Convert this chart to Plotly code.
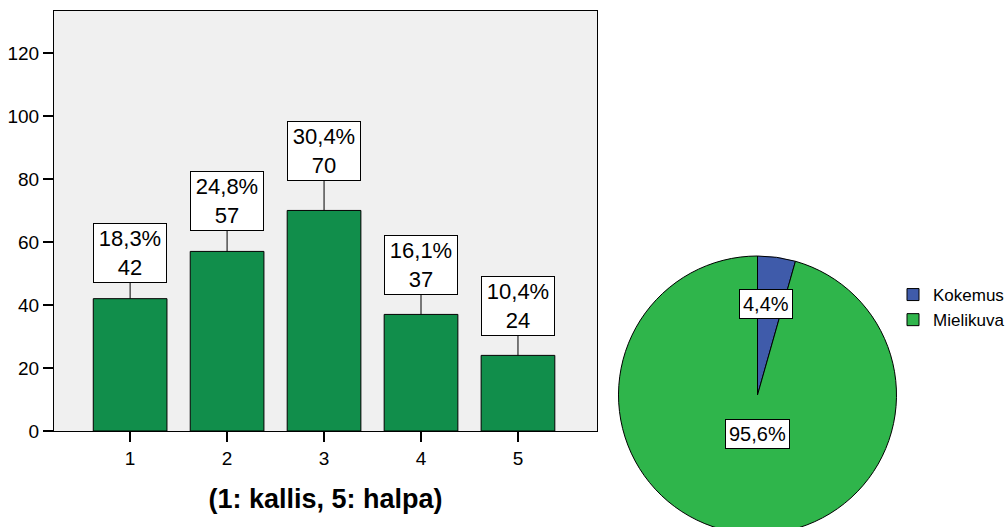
import plotly.graph_objects as go

# Price rating distribution (1: kallis, 5: halpa)
categories = [1, 2, 3, 4, 5]
counts = [42, 57, 70, 37, 24]

# Source of the impression
pie_labels = ["Kokemus", "Mielikuva"]
pie_values = [4.4, 95.6]

y_ticks = [0, 20, 40, 60, 80, 100, 120]

# vertical offset (px) of each count label above its bar
label_offsets = [-46, -50, -59, -49, -49]

W, H = 1005, 545
BAR_GREEN = "#118E4B"
PIE_COLORS = ["#3F5BAA", "#2FB54B"]
FONT = "Liberation Sans, Arial, sans-serif"


def fi_pct(v):
    return f"{v:.1f}".replace(".", ",") + "%"


total = sum(counts)

fig = go.Figure()

fig.add_trace(go.Bar(
    x=categories, y=counts,
    width=0.76,
    marker=dict(color=BAR_GREEN, line=dict(color="black", width=1)),
    showlegend=False,
    hoverinfo="skip",
    xaxis="x", yaxis="y",
))

# bar value labels: percentage share + count
annotations = []
for c, n, off in zip(categories, counts, label_offsets):
    annotations.append(dict(
        x=c, y=n, xref="x", yref="y",
        text=f"{fi_pct(100 * n / total)}<br>{n}",
        showarrow=True, arrowhead=0, arrowwidth=1, arrowcolor="black",
        ax=0, ay=off, standoff=0,
        font=dict(family=FONT, size=22, color="black"),
        bgcolor="white", bordercolor="black", borderwidth=1, borderpad=0,
        width=72, height=58,
    ))

# pie geometry in pixels
pie_cx, pie_cy, pie_r = 757.5, 395, 139
fig.add_trace(go.Pie(
    labels=pie_labels, values=pie_values,
    sort=False, direction="clockwise", rotation=0,
    marker=dict(colors=PIE_COLORS, line=dict(color="black", width=1)),
    textinfo="none", hoverinfo="label+percent",
    domain=dict(
        x=[(pie_cx - pie_r) / W, (pie_cx + pie_r) / W],
        y=[1 - (pie_cy + pie_r) / H, 1 - (pie_cy - pie_r) / H],
    ),
))

# boxed percentage labels on the pie slices
pie_label_pos = [(766, 304), (757.5, 433.5)]
for v, (px, py) in zip(pie_values, pie_label_pos):
    annotations.append(dict(
        x=px / W, y=1 - py / H, xref="paper", yref="paper",
        xanchor="center", yanchor="middle",
        text=fi_pct(v), showarrow=False,
        font=dict(family=FONT, size=20, color="black"),
        bgcolor="white", bordercolor="black", borderwidth=1, borderpad=3,
    ))

fig.update_layout(
    width=W, height=H,
    margin=dict(l=0, r=0, t=0, b=0, autoexpand=False),
    paper_bgcolor="white",
    plot_bgcolor="#F0F0F0",
    font=dict(family=FONT, color="black"),
    xaxis=dict(
        domain=[54 / W, 597 / W],
        range=[0.215, 5.815],
        tickvals=categories, ticktext=[str(c) for c in categories],
        ticks="outside", ticklen=10, tickwidth=2, tickcolor="black",
        tickfont=dict(size=19),
        showline=True, linecolor="black", linewidth=1, mirror=True,
        showgrid=False, zeroline=False, automargin=False,
        title=dict(text="<b>(1: kallis, 5: halpa)</b>", font=dict(size=27), standoff=21),
    ),
    yaxis=dict(
        domain=[1 - 431 / H, 1 - 11 / H],
        range=[0, 133.3],
        tickvals=y_ticks,
        ticks="outside", ticklen=10, tickwidth=2, tickcolor="black",
        tickfont=dict(size=19),
        showline=True, linecolor="black", linewidth=1, mirror=True,
        showgrid=False, zeroline=False, automargin=False,
    ),
    legend=dict(
        xref="container", yref="container",
        x=893 / W, y=1 - 277 / H, xanchor="left", yanchor="top",
        font=dict(size=17), bgcolor="rgba(0,0,0,0)",
        tracegroupgap=0, itemwidth=30,
    ),
    annotations=annotations,
)

fig.write_html(
    "out.html",
    post_script=(
        "document.body.style.margin='0';"
        "document.body.style.overflow='hidden';"
        "document.documentElement.style.overflow='hidden';"
    ),
)
